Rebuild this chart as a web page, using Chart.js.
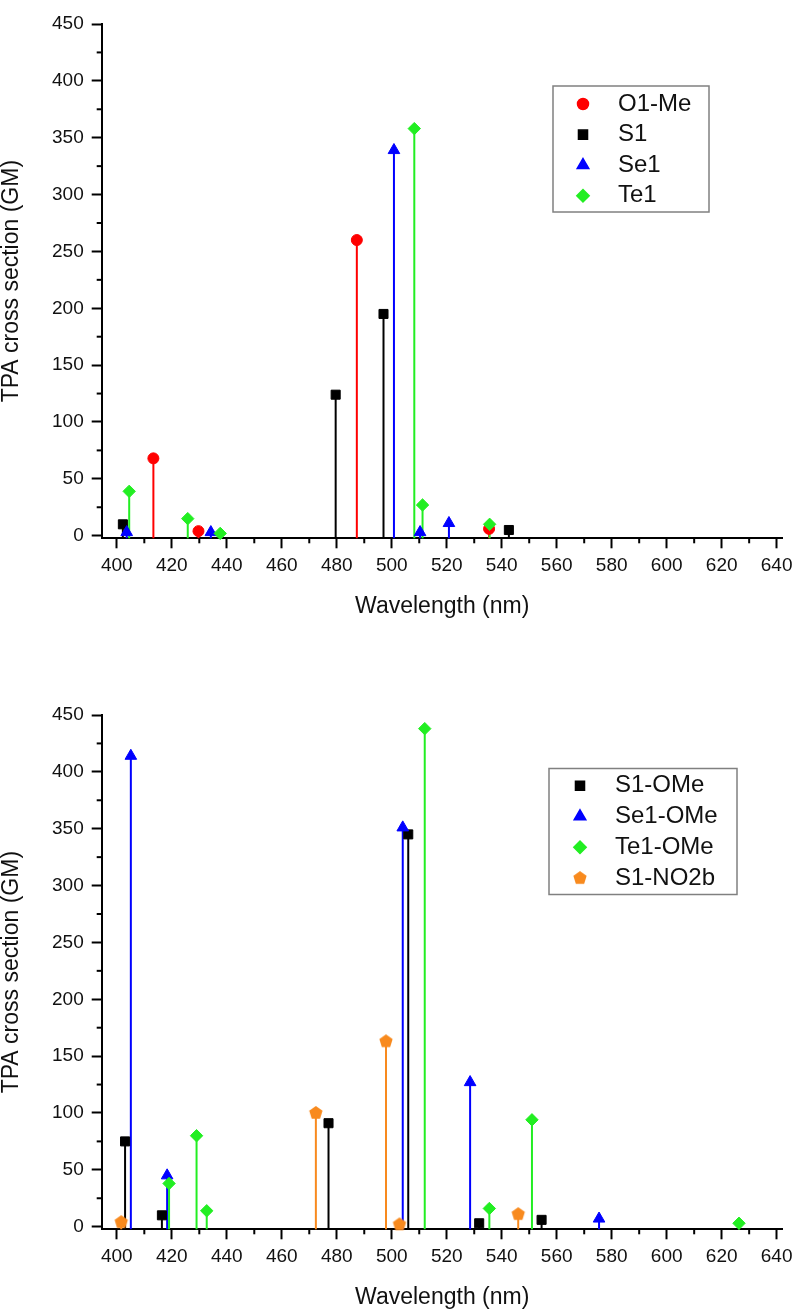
<!DOCTYPE html>
<html>
<head>
<meta charset="utf-8">
<title>TPA cross section</title>
<script src="https://cdn.jsdelivr.net/npm/chart.js@4.4.1/dist/chart.umd.min.js"></script>
<style>
  html, body { margin: 0; padding: 0; background: #fff; }
  body { width: 797px; height: 1313px; position: relative; overflow: hidden; }
  canvas { position: absolute; left: 0; }
  #chartTop { top: 0; }
  #chartBottom { top: 640px; }
</style>
</head>
<body>
<canvas id="chartTop" width="797" height="640"></canvas>
<canvas id="chartBottom" width="797" height="673"></canvas>
<script>
// --- top panel: wavelength (nm) / TPA cross section (GM)
const o1MeWl = [413.3, 429.7, 487.3, 535.4];
const o1MeGM = [68, 4, 260, 6];
const s1Wl = [402.2, 479.6, 497.0, 542.6];
const s1GM = [10, 124, 195, 5];
const se1Wl = [403.6, 434.2, 500.8, 510.3, 520.8];
const se1GM = [3, 3, 339, 3, 11];
const te1Wl = [404.5, 425.8, 437.6, 508.2, 511.2, 535.6];
const te1GM = [39, 15, 2, 358, 27, 10];

// --- bottom panel
const s1OMeWl = [403.0, 416.4, 477.0, 506.0, 531.8, 554.5];
const s1OMeGM = [75, 10, 91, 345, 3, 6];
const se1OMeWl = [405.1, 418.3, 504.0, 528.5, 575.4];
const se1OMeGM = [414, 45, 351, 127, 7];
const te1OMeWl = [419.0, 429.0, 432.7, 512.0, 535.5, 551.0, 626.3];
const te1OMeGM = [38, 80, 14, 438, 16, 94, 3];
const s1No2bWl = [401.6, 472.4, 497.9, 502.8, 546.0];
const s1No2bGM = [4, 100, 163, 2, 11];

// axis ticks
const xMajorTicks = [400, 420, 440, 460, 480, 500, 520, 540, 560, 580, 600, 620, 640];
const xMinorTicks = [410, 430, 450, 470, 490, 510, 530, 550, 570, 590, 610, 630];
const yMajorTicks = [0, 50, 100, 150, 200, 250, 300, 350, 400, 450];
const yMinorTicks = [25, 75, 125, 175, 225, 275, 325, 375, 425];

const FONT = "'Liberation Sans', Arial, sans-serif";
const RED = '#ff0000', BLACK = '#000000', BLUE = '#0000ff', GREEN = '#22ee22', ORANGE = '#f88a1e';

// no pentagon in chart.js, so make one
function pentagon(color, r) {
  const c = document.createElement('canvas');
  const s = Math.ceil(r * 2 + 2);
  c.width = s; c.height = s;
  const g = c.getContext('2d');
  g.fillStyle = color;
  g.beginPath();
  for (let i = 0; i < 5; i++) {
    const a = -Math.PI / 2 + i * 2 * Math.PI / 5;
    const px = s / 2 + r * Math.cos(a), py = s / 2 + r * Math.sin(a);
    if (i) g.lineTo(px, py); else g.moveTo(px, py);
  }
  g.closePath();
  g.fill();
  return c;
}

function series(label, wl, gm, color, style, radius, order) {
  return {
    label: label,
    data: wl.map((x, i) => ({x: x, y: gm[i]})),
    backgroundColor: color,
    borderColor: color,
    pointStyle: style,
    pointRadius: radius,
    pointHoverRadius: radius,
    pointBorderWidth: 1,
    showLine: false,
    clip: false,
    order: order
  };
}

// vertical drop lines from the axis to each point
const stems = {
  id: 'stems',
  beforeDatasetsDraw(chart) {
    const {ctx} = chart;
    const y = chart.scales.y;
    ctx.save();
    ctx.lineWidth = 2;
    chart.data.datasets.forEach((ds, i) => {
      ctx.strokeStyle = ds.borderColor;
      chart.getDatasetMeta(i).data.forEach(pt => {
        ctx.beginPath();
        ctx.moveTo(pt.x, y.getPixelForValue(y.min));
        ctx.lineTo(pt.x, pt.y);
        ctx.stroke();
      });
    });
    ctx.restore();
  }
};

// short minor ticks
const minorTicks = {
  id: 'minorTicks',
  beforeDatasetsDraw(chart) {
    const {ctx, chartArea} = chart;
    const x = chart.scales.x, y = chart.scales.y;
    ctx.save();
    ctx.strokeStyle = '#000';
    ctx.lineWidth = 2;
    xMinorTicks.forEach(v => {
      const px = x.getPixelForValue(v);
      ctx.beginPath();
      ctx.moveTo(px, chartArea.bottom);
      ctx.lineTo(px, chartArea.bottom + 5);
      ctx.stroke();
    });
    yMinorTicks.forEach(v => {
      const py = y.getPixelForValue(v);
      ctx.beginPath();
      ctx.moveTo(chartArea.left, py);
      ctx.lineTo(chartArea.left - 5, py);
      ctx.stroke();
    });
    ctx.restore();
  }
};

// framed legend inside the plot
const boxLegend = {
  id: 'boxLegend',
  afterDatasetsDraw(chart, args, opts) {
    const {ctx} = chart;
    ctx.save();
    ctx.fillStyle = '#fff';
    ctx.fillRect(opts.left, opts.top, opts.width, opts.height);
    ctx.strokeStyle = '#808080';
    ctx.lineWidth = 1.5;
    ctx.strokeRect(opts.left, opts.top, opts.width, opts.height);
    chart.data.datasets.forEach((ds, i) => {
      const rowY = opts.top + opts.firstRow + i * opts.rowGap;
      ctx.fillStyle = ds.backgroundColor;
      ctx.strokeStyle = ds.borderColor;
      Chart.helpers.drawPoint(ctx, {pointStyle: ds.pointStyle, radius: ds.pointRadius, rotation: 0, borderWidth: 1}, opts.markerX, rowY);
      ctx.fillStyle = '#111';
      ctx.font = opts.fontSize + 'px ' + FONT;
      ctx.textAlign = 'left';
      ctx.textBaseline = 'middle';
      ctx.fillText(ds.label, opts.textX, rowY);
    });
    ctx.restore();
  }
};

function panelOptions(layoutPadding, legendBox) {
  return {
    responsive: false,
    animation: false,
    events: [],
    layout: { padding: layoutPadding },
    plugins: {
      legend: { display: false },
      tooltip: { enabled: false },
      boxLegend: legendBox
    },
    scales: {
      x: {
        type: 'linear',
        min: 394.5,
        max: 642.2,
        afterBuildTicks: s => { s.ticks = xMajorTicks.map(v => ({value: v})); },
        afterFit: s => { s.height = 80; s.paddingLeft = 0; s.paddingRight = 0; },
        grid: { display: true, drawOnChartArea: false, tickLength: 10, tickWidth: 2, tickColor: '#000' },
        border: { display: true, color: '#000', width: 2 },
        ticks: { autoSkip: false, maxRotation: 0, padding: 6, color: '#111', font: { family: FONT, size: 19 } },
        title: { display: true, text: 'Wavelength (nm)', color: '#111', padding: 0,
                 font: { family: FONT, size: 23, lineHeight: 1 } }
      },
      y: {
        type: 'linear',
        min: -2.3,
        max: 450,
        afterBuildTicks: s => { s.ticks = yMajorTicks.map(v => ({value: v})); },
        afterFit: s => { s.width = 101.7; s.paddingTop = 0; s.paddingBottom = 0; },
        grid: { display: true, drawOnChartArea: false, tickLength: 10, tickWidth: 2, tickColor: '#000' },
        border: { display: true, color: '#000', width: 2 },
        ticks: { autoSkip: false, padding: 8, color: '#111', font: { family: FONT, size: 19 } },
        title: { display: true, text: 'TPA cross section (GM)', color: '#111', padding: 0,
                 font: { family: FONT, size: 23, lineHeight: 1 } }
      }
    }
  };
}

const dataTop = {
  datasets: [
    series('O1-Me', o1MeWl, o1MeGM, RED, 'circle', 5.5, 3),
    series('S1', s1Wl, s1GM, BLACK, 'rect', 6.4, 2),
    series('Se1', se1Wl, se1GM, BLUE, 'triangle', 6.7, 1),
    series('Te1', te1Wl, te1GM, GREEN, 'rectRot', 6.2, 0)
  ]
};

const configTop = {
  type: 'scatter',
  data: dataTop,
  options: panelOptions(
    { top: 24, right: 14.3, bottom: 21.7, left: 0 },
    { left: 553, top: 86, width: 156, height: 126, firstRow: 18, rowGap: 30.6, markerX: 583, textX: 618, fontSize: 24 }
  ),
  plugins: [stems, minorTicks, boxLegend]
};

const myChartTop = new Chart(document.getElementById('chartTop'), configTop);

const dataBottom = {
  datasets: [
    series('S1-OMe', s1OMeWl, s1OMeGM, BLACK, 'rect', 6.4, 3),
    series('Se1-OMe', se1OMeWl, se1OMeGM, BLUE, 'triangle', 6.7, 2),
    series('Te1-OMe', te1OMeWl, te1OMeGM, GREEN, 'rectRot', 6.2, 1),
    series('S1-NO2b', s1No2bWl, s1No2bGM, ORANGE, pentagon(ORANGE, 7), 7, 0)
  ]
};

const configBottom = {
  type: 'scatter',
  data: dataBottom,
  options: panelOptions(
    { top: 75, right: 14.3, bottom: 3.7, left: 0 },
    { left: 549, top: 128.5, width: 188, height: 126, firstRow: 17.2, rowGap: 30.8, markerX: 580, textX: 615, fontSize: 24 }
  ),
  plugins: [stems, minorTicks, boxLegend]
};

const myChartBottom = new Chart(document.getElementById('chartBottom'), configBottom);
</script>
</body>
</html>
